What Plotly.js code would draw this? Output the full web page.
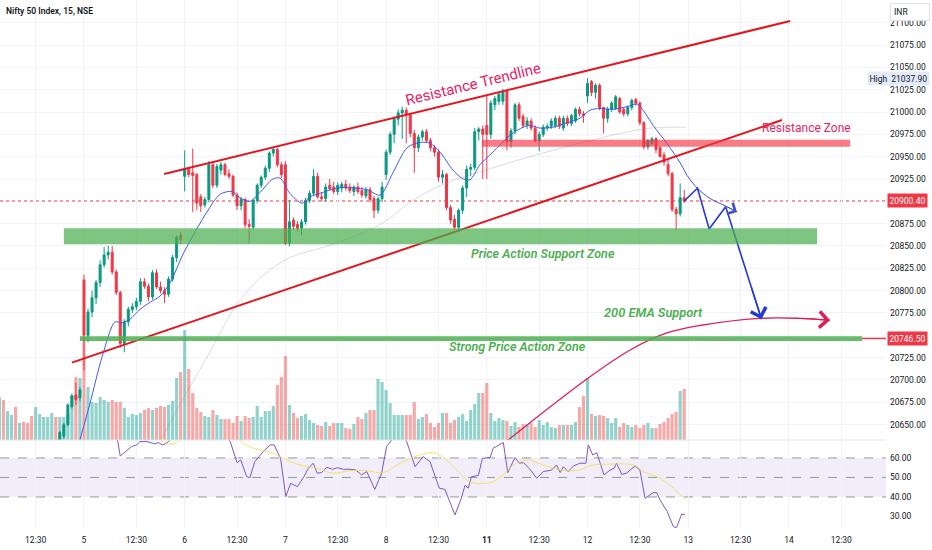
<!DOCTYPE html>
<html><head><meta charset="utf-8">
<script src="https://cdn.plot.ly/plotly-3.0.1.min.js"></script>
<style>html,body{margin:0;padding:0;background:#fff}#chart{width:932px;height:550px}</style>
</head><body><div id="chart"></div>
<script>
// ---------- DATA (bar index 0 = Dec 5, 09:15; 25 fifteen-minute bars per session) ----------
const firstBar = -6;
const opens = [20628,20637,20650,20670,20683,20680,
 20812,20750,20776,20792,20809,20829,20840,20843,20821,20798,20741,20765,20779,20782,20788,20810,20805,20793,20820,20804,20800,20796,20813,20837,20862,
 20928,20936,20932,20930,20905,20896,20902,20941,20918,20935,20941,20931,20928,20907,20895,20902,20874,20871,20901,20918,20927,20937,20954,20958,20941,
 20941,20853,20879,20874,20870,20877,20901,20909,20928,20905,20903,20918,20916,20911,20915,20919,20916,20911,20916,20912,20906,20913,20903,20890,20903,
 20930,20955,20975,20992,20999,21002,20997,20976,20960,20972,20978,20968,20960,20955,20927,20930,20893,20880,20871,20890,20915,20936,20938,20978,20981,
 20985,20975,21008,21012,21012,21023,20967,20979,21008,20995,20985,20990,20982,20968,20975,20982,20984,20985,20993,20982,20993,20987,20990,21003,20998,
 21018,21034,21022,21030,21005,20993,21003,21004,21015,21003,20998,21005,21014,21010,20988,20961,20965,20970,20960,20952,20941,20931,20891,20886,20904];
const highs = [20643,20652,20674,20685,20697,20692,
 20818,20780,20800,20812,20834,20849,20850,20850,20824,20800,20768,20782,20786,20792,20814,20814,20808,20823,20824,20810,20804,20816,20840,20862,20866,
 20957,20938,20959,20932,20908,20905,20945,20944,20942,20944,20943,20936,20930,20910,20905,20904,20880,20903,20920,20929,20940,20956,20961,20960,20944,
 20945,20901,20882,20878,20880,20904,20912,20936,20932,20910,20920,20925,20922,20921,20922,20924,20920,20918,20921,20916,20916,20916,20906,20905,20922,
 20958,20978,20995,21003,21006,21005,20999,20980,20975,20980,20981,20971,20963,20958,20935,20932,20896,20885,20892,20918,20940,20942,20982,20983,20985,
 21019,21013,21018,21022,21026,21025,20982,21010,21011,20998,20994,20993,20985,20978,20986,20987,20993,20996,20996,20996,20996,20998,21005,21006,21001,
 21037.9,21036,21032,21032,21006,21006,21012,21019,21017,21005,21007,21015,21016,21012,20990,20970,20972,20972,20962,20955,20946,20933,20894,20920,20913];
const lows = [20622,20634,20648,20668,20672,20676,
 20711,20742,20770,20785,20804,20826,20835,20818,20795,20736,20731,20760,20775,20778,20784,20802,20788,20790,20802,20797,20786,20793,20810,20832,20852,
 20911,20927,20888,20890,20888,20893,20899,20915,20915,20930,20928,20925,20905,20890,20890,20870,20853,20868,20898,20915,20924,20933,20950,20938,20926,
 20851,20850,20868,20866,20862,20874,20898,20906,20903,20900,20900,20912,20908,20907,20910,20912,20909,20906,20908,20904,20903,20899,20881,20886,20899,
 20924,20952,20965,20985,20970,20965,20972,20932,20955,20968,20965,20956,20950,20922,20920,20890,20875,20868,20866,20886,20905,20928,20935,20968,20925,
 20925,20970,21002,21008,21008,20957,20960,20975,20990,20982,20981,20979,20966,20956,20972,20979,20981,20982,20981,20979,20984,20984,20988,20995,20988,
 21010,21018,21015,21002,20976,20988,21000,21002,20998,20995,20995,21002,21007,20985,20958,20958,20962,20954,20949,20940,20928,20888,20868,20883,20898];
const closes = [20641,20650,20672,20682,20678,20689,
 20750,20776,20792,20809,20829,20840,20843,20821,20798,20741,20765,20779,20782,20788,20810,20805,20793,20820,20804,20800,20796,20813,20837,20860,20857,
 20936,20930,20929,20898,20895,20902,20941,20918,20939,20941,20930,20928,20907,20895,20902,20874,20872,20901,20918,20927,20937,20954,20958,20941,20930,
 20853,20877,20872,20870,20877,20901,20909,20928,20905,20903,20916,20914,20911,20918,20919,20915,20912,20916,20911,20907,20913,20902,20890,20903,20916,
 20955,20975,20992,20999,21002,20997,20976,20960,20972,20978,20968,20960,20955,20927,20930,20893,20879,20871,20890,20915,20936,20938,20978,20981,20975,
 20975,21010,21015,21020,21023,20967,20979,21008,20993,20985,20990,20982,20968,20975,20983,20984,20990,20993,20984,20993,20987,20996,21003,20998,20996,
 21032,21022,21030,21005,20993,21003,21010,21017,21000,20998,21005,21013,21010,20988,20961,20968,20970,20958,20950,20944,20931,20891,20886,20904,20900.4];

const volStart = -21;
const volumes = [43,40,29,25,33,17,18,17,24,33,26,23,23,27,23,23,23,26,45,63,62,
 102,53,38,37,43,40,38,40,38,38,32,23,26,25,27,30,32,30,32,34,33,35,39,62,68,
 110,71,47,32,28,24,23,30,25,21,21,21,17,24,19,24,22,23,34,23,29,29,34,55,63,
 84,35,27,22,24,26,20,17,15,14,18,14,17,17,17,12,11,16,23,21,27,30,30,61,58,
 50,37,25,25,25,25,25,38,21,23,26,17,13,17,27,27,17,20,23,26,19,30,36,47,47,
 57,27,19,22,20,19,14,18,13,16,16,17,13,20,15,18,13,12,15,15,15,15,18,33,44,
 62,26,24,25,24,22,17,22,13,17,15,13,15,12,15,17,12,12,16,18,22,26,28,49,51];
const earlyVolUp = [1,0,1,1,0,1,0,0,0,1,1,1,1,1,0];

const emaIdx = [-1.5,1.5,4.5,7.7,9.4,11.4,13.9,16.4,18.9,21.4,24.6,28.0,30.5,33.8,36.8,38.7,41.2,43.7,46.9,48.7,
 51.1,54.1,56.1,59.3,62.8,66.8,70.3,73.5,76.7,80.2,83.4,85.9,88.4,91.6,93.8,95.8,98.3,101.5,105.8,109.0,
 110.7,113.2,116.4,119.9,123.1,125.6,128.1,131.3,134.8,137.3,138.8,141.3,144.7,148.0,149.7];
const emaVal = [20625,20674,20726,20765,20764,20768,20779,20787,20794,20809,20841,20869,20888,20908,20911,20904,20900,20910,20925,20926,
 20909,20898,20905,20910,20915,20915,20913,20907,20932,20960,20966,20965,20955,20935,20926,20924,20941,20955,20974,20983,
 20985,20982,20983,20988,20993,21002,21004,21003,21006,21009,21002,20985,20965,20943,20929];
const slowIdx = [17.5,25.1,30.5,37.0,43.7,51.1,61.1,73.5,81.7,90.1,98.3,110.7,123.1,133.1,140.5,149.5];
const slowVal = [20620,20683,20725,20778,20814,20837,20851,20874,20901,20921,20933,20950,20965,20976,20982,20983];

const rsiIdx = [8.1,9.0,10.3,11.8,13.1,13.9,15.6,17.6,18.4,19.5,20.5,21.2,25,30,35,36.3,38.0,38.9,40.4,41.2,42.4,44.5,46.2,47.2,48.8,
 50.1,51.3,53.0,54.6,55.7,56.9,57.9,59.0,60.2,61.7,62.9,64.4,66.0,67.5,68.9,70.2,72.2,73.9,75.1,76.4,78.3,80.1,82.2,84.2,85.9,88.2,89.6,
 92.1,93.7,94.6,95.4,96.2,97.9,98.9,100.8,101.6,104.1,105.2,107.0,108.1,109.1,110.7,112.4,114.0,116.1,117.3,118.2,119.0,120.2,121.5,123.1,124.6,
 125.2,126.3,127.3,129.1,130.6,131.6,132.2,133.5,134.7,136.8,138.0,139.3,141.3,142.2,143.0,144.8,146.3,147.1,148.4,149.2];
const rsiVal = [72,61,63.2,65.8,66.7,68.4,68.4,67.2,67.9,66.7,67.5,69.2,77,75,73,68.4,57.6,59,50.4,49.9,58.1,63.2,66.7,66.7,59.8,
 40.2,47,45.3,50.4,54.7,57.3,52.2,52.5,55.2,54.2,55,54.2,54.2,53.8,51.3,53,43.9,52.2,65.8,69.2,74,68.4,55.5,60.7,58.1,44.5,43.9,
 30.8,39.5,46,44.5,50.4,51,59.8,60.2,65,67.9,52.5,60.2,57.3,57.6,54.2,49.6,53,53.8,56.4,52.5,55.5,53,55.9,57.3,57.3,
 66.7,61.5,62.7,51.3,53.8,54.7,57.3,51.6,52.2,55.9,53.8,39.3,42.2,42.2,38.5,32.5,24.8,24.3,31.3,30.8];
const rsiMaIdx = [18.5,20.5,22.5,24.5,31,38.5,39.5,42.0,47.0,50.3,53.6,57.8,61.9,66.0,70.2,74.3,78.5,82.6,86.7,90.0,
 93.3,95.8,100.8,104.1,106.6,109.9,114.0,118.2,122.3,126.4,130.6,136.4,138.9,143.0,146.3,149.2];
const rsiMaVal = [70,67.5,67.3,70,71.5,69.5,67.5,65,62.4,59,56.4,54.7,52.2,53.5,53.5,52.5,57.3,61,62.7,59,
 52.2,47.8,47.3,51.3,56.4,59,56.4,53.8,53.5,56.4,56.8,56.4,53,49.6,44.5,38.5];

// drawings (bar index, price)
const resTrendIdx = [19.9, 175.3], resTrendVal = [20930.6, 21101.9];
const supTrendIdx = [-3.0, 173.3], supTrendVal = [20719.4, 20991];
const resZoneIdx = [98.8, 190.2], resZoneVal = [20961, 20969];
const supZoneIdx = [-5.0, 182.0], supZoneVal = [20852, 20870];
const strongZoneIdx = [-1.0, 193.2], strongZoneVal = [20743.5, 20749];
const strongLevel = 20746.5;
const emaExtIdx = [149.7, 152.2, 155.5, 159.4, 162.1], emaExtVal = [20929, 20915, 20903, 20894.5, 20888];
const projIdx = [149.0, 152.3, 155.2, 159.3, 168.2], projVal = [20900.4, 20914.6, 20869, 20894, 20768];
const curveIdx = [104.5, 125.1, 135.6, 144.7, 152.9, 167.8, 177.8, 185.2];
const curveVal = [20630, 20702, 20733.6, 20752.6, 20761, 20769, 20769, 20767];

const priceTicks = [20650,20675,20700,20725,20775,20800,20825,20850,20875,20925,20950,20975,21000,21025,21050,21075,21100];
const rsiTicks = [30,40,50,60];
const xTickIdx = [-12,0,13,25,38,50,63,75,88,100,113,125,138,150,163,175,188];
const xTickText = ['12:30','5','12:30','6','12:30','7','12:30','8','12:30','<b>11</b>','12:30','12','12:30','13','12:30','14','12:30'];

// ---------- BUILD ----------
const candleX = opens.map((_, k) => firstBar + k);
const volX = volumes.map((_, k) => volStart + k);
const GREEN = '#089981', RED = '#f23645';
const volColors = volX.map(i => {
  let up;
  if (i >= firstBar) { const k = i - firstBar; up = closes[k] >= opens[k]; }
  else up = earlyVolUp[i - volStart] === 1;
  return up ? 'rgba(38,166,154,0.5)' : 'rgba(239,83,80,0.5)';
});
const lastClose = closes[closes.length - 1];
const highVal = Math.max(...highs);
const xRange = [-20.85, 199.1];
const FONT = 'Roboto, "Noto Sans", sans-serif';
const LINE_RED = '#e3161e';

const traces = [
  {type:'bar', x: volX, y: volumes, xaxis:'x', yaxis:'y', marker:{color: volColors, line:{width:0}}, hoverinfo:'skip'},
  {type:'scatter', mode:'lines', x: slowIdx, y: slowVal, xaxis:'x', yaxis:'y2', line:{color:'rgba(140,140,150,0.3)', width:1, shape:'spline'}, hoverinfo:'skip'},
  {type:'scatter', mode:'lines', x: emaIdx, y: emaVal, xaxis:'x', yaxis:'y2', line:{color:'#3f5bef', width:1, shape:'spline', smoothing:0.8}, hoverinfo:'skip'},
  {type:'candlestick', x: candleX, open: opens, high: highs, low: lows, close: closes, xaxis:'x', yaxis:'y2', whiskerwidth:0,
    increasing:{line:{color:GREEN, width:1}, fillcolor:GREEN}, decreasing:{line:{color:RED, width:1}, fillcolor:RED}, hoverinfo:'skip'},
  {type:'scatter', mode:'lines', x: emaExtIdx, y: emaExtVal, xaxis:'x', yaxis:'y2', line:{color:'#3f51c9', width:1, shape:'spline'}, hoverinfo:'skip'},
  {type:'scatter', mode:'lines', x: resTrendIdx, y: resTrendVal, xaxis:'x', yaxis:'y2', line:{color:LINE_RED, width:2}, hoverinfo:'skip'},
  {type:'scatter', mode:'lines', x: supTrendIdx, y: supTrendVal, xaxis:'x', yaxis:'y2', line:{color:LINE_RED, width:2}, hoverinfo:'skip'},
  {type:'scatter', mode:'lines', x: projIdx, y: projVal, xaxis:'x', yaxis:'y2', line:{color:'#2638d6', width:1.6}, hoverinfo:'skip'},
  {type:'scatter', mode:'lines', x: curveIdx, y: curveVal, xaxis:'x', yaxis:'y2', line:{color:'#dc1f55', width:1.3, shape:'spline', smoothing:1}, hoverinfo:'skip'},
  {type:'scatter', mode:'lines', x: rsiIdx, y: rsiVal, xaxis:'x', yaxis:'y3', line:{color:'#7e57c2', width:1}, hoverinfo:'skip'},
  {type:'scatter', mode:'lines', x: rsiMaIdx, y: rsiMaVal, xaxis:'x', yaxis:'y3', line:{color:'rgba(240,220,60,0.75)', width:1, shape:'spline'}, hoverinfo:'skip'}
];

const shapes = [
  {type:'rect', xref:'paper', yref:'y3', x0:0, x1:1, y0:40, y1:60, fillcolor:'rgba(126,87,194,0.1)', line:{width:0}, layer:'below'},
  ...[60,50,40].map(v => ({type:'line', xref:'paper', yref:'y3', x0:0, x1:1, y0:v, y1:v, line:{color:'#9598a1', width:1, dash:'dash'}, layer:'below'})),
  {type:'line', xref:'x', yref:'y2', x0:xRange[0], x1:xRange[1], y0:lastClose, y1:lastClose, line:{color:RED, width:1, dash:'dot'}, layer:'below'},
  {type:'line', xref:'paper', yref:'paper', x0:0, x1:1, y0:88/528, y1:88/528, line:{color:'#e0e3eb', width:1}},
  {type:'rect', xref:'x', yref:'y2', x0:supZoneIdx[0], x1:supZoneIdx[1], y0:supZoneVal[0], y1:supZoneVal[1], fillcolor:'rgba(76,175,80,0.72)', line:{width:0}, layer:'above'},
  {type:'rect', xref:'x', yref:'y2', x0:resZoneIdx[0], x1:resZoneIdx[1], y0:resZoneVal[0], y1:resZoneVal[1], fillcolor:'rgba(242,54,69,0.65)', line:{width:0}, layer:'above'},
  {type:'line', xref:'x', yref:'y2', x0:strongZoneIdx[1], x1:xRange[1], y0:strongLevel, y1:strongLevel, line:{color:RED, width:1.5}, layer:'above'},
  {type:'rect', xref:'x', yref:'y2', x0:strongZoneIdx[0], x1:strongZoneIdx[1], y0:strongZoneVal[0], y1:strongZoneVal[1], fillcolor:'rgba(76,175,80,0.85)', line:{width:0}, layer:'above'}
];

const n = projIdx.length, m = curveIdx.length, e = emaExtIdx.length;
const annotations = [
  {xref:'paper', yref:'paper', x:0, y:1, xanchor:'left', yanchor:'top', xshift:4, yshift:-4, showarrow:false,
    text:'Nifty 50 Index, 15, NSE', font:{family:FONT, size:8.5, color:'#131722', weight:600}},
  {xref:'paper', yref:'paper', x:1, y:1, xanchor:'left', yanchor:'top', xshift:4, yshift:-3, showarrow:false, text:'INR',
    bgcolor:'#ffffff', bordercolor:'#e0e3eb', borderwidth:1, borderpad:3, width:32, align:'left', font:{family:FONT, size:8.5, color:'#131722'}},
  {xref:'paper', yref:'y2', x:1, y:highVal, xanchor:'right', yanchor:'middle', xshift:44, showarrow:false,
    text:'High&nbsp;&nbsp;' + highVal.toFixed(2), bgcolor:'#e3ebfa', borderpad:1.5, font:{family:FONT, size:8.5, color:'#131722'}},
  {xref:'paper', yref:'y2', x:1, y:lastClose, xanchor:'left', yanchor:'middle', xshift:1, showarrow:false,
    text:lastClose.toFixed(2), bgcolor:RED, borderpad:1.5, font:{family:FONT, size:8.5, color:'#ffffff'}},
  {xref:'paper', yref:'y2', x:1, y:strongLevel, xanchor:'left', yanchor:'middle', xshift:1, showarrow:false,
    text:strongLevel.toFixed(2), bgcolor:RED, borderpad:1.5, font:{family:FONT, size:8.5, color:'#ffffff'}},
  {xref:'x', yref:'y2', x:96.8, y:21031, showarrow:false, text:'Resistance Trendline', textangle:-13.7,
    font:{family:FONT, size:15, color:'#e5245f'}},
  {xref:'x', yref:'y2', x:179.3, y:20982, showarrow:false, text:'Resistance Zone', font:{family:FONT, size:12, color:'#e5245f'}},
  {xref:'x', yref:'y2', x:114.0, y:20842, showarrow:false, text:'Price Action Support Zone',
    font:{family:FONT, size:12.5, color:'#4caf50', style:'italic', weight:600}},
  {xref:'x', yref:'y2', x:141.3, y:20775, showarrow:false, text:'200 EMA Support',
    font:{family:FONT, size:12.8, color:'#4caf50', style:'italic', weight:600}},
  {xref:'x', yref:'y2', x:107.7, y:20738, showarrow:false, text:'Strong Price Action Zone',
    font:{family:FONT, size:12.5, color:'#4caf50', style:'italic', weight:600}},
  {xref:'x', yref:'y2', axref:'x', ayref:'y2', x:projIdx[n-1], y:projVal[n-1],
    ax:projIdx[n-1] - (projIdx[n-1]-projIdx[n-2])*0.3, ay:projVal[n-1] - (projVal[n-1]-projVal[n-2])*0.3,
    text:'', showarrow:true, arrowhead:4, arrowsize:2.2, arrowwidth:1.4, arrowcolor:'#2638d6', standoff:0},
  {xref:'x', yref:'y2', axref:'x', ayref:'y2', x:curveIdx[m-1], y:curveVal[m-1],
    ax:curveIdx[m-2], ay:curveVal[m-2],
    text:'', showarrow:true, arrowhead:4, arrowsize:2.6, arrowwidth:1.2, arrowcolor:'#dc1f55', standoff:0},
  {xref:'x', yref:'y2', axref:'x', ayref:'y2', x:emaExtIdx[e-1], y:emaExtVal[e-1],
    ax:emaExtIdx[e-2], ay:emaExtVal[e-2],
    text:'', showarrow:true, arrowhead:4, arrowsize:2.4, arrowwidth:1, arrowcolor:'#3f51c9', standoff:0}
];

const tickFont = {family:FONT, size:8.5, color:'#131722'};
const layout = {
  width:932, height:550, margin:{l:0, r:46, t:0, b:22},
  paper_bgcolor:'#ffffff', plot_bgcolor:'#ffffff', showlegend:false, hovermode:false, bargap:0.22,
  xaxis:{range:xRange, type:'linear', anchor:'y3', tickmode:'array', tickvals:xTickIdx, ticktext:xTickText,
    showgrid:true, gridcolor:'#f0f3fa', zeroline:false, showline:false, ticks:'', tickfont:tickFont, ticklabelstandoff:5,
    rangeslider:{visible:false}, fixedrange:true},
  yaxis:{domain:[88/528, 1], range:[0, 440], visible:false, fixedrange:true},
  yaxis2:{domain:[88/528, 1], overlaying:'y', anchor:'x', side:'right', range:[20632.8, 21125.4],
    tickmode:'array', tickvals:priceTicks, ticktext:priceTicks.map(v => v.toFixed(2)), ticklabelstandoff:3,
    showgrid:true, gridcolor:'#f0f3fa', zeroline:false, showline:false, ticks:'', tickfont:tickFont, fixedrange:true},
  yaxis3:{domain:[0, 88/528], anchor:'x', side:'right', range:[24.1, 69.2],
    tickmode:'array', tickvals:rsiTicks, ticktext:rsiTicks.map(v => v.toFixed(2)), ticklabelstandoff:3,
    showgrid:false, zeroline:false, showline:false, ticks:'', tickfont:tickFont, fixedrange:true},
  shapes, annotations
};
Plotly.newPlot('chart', traces, layout, {displayModeBar:false, staticPlot:true});
</script></body></html>
